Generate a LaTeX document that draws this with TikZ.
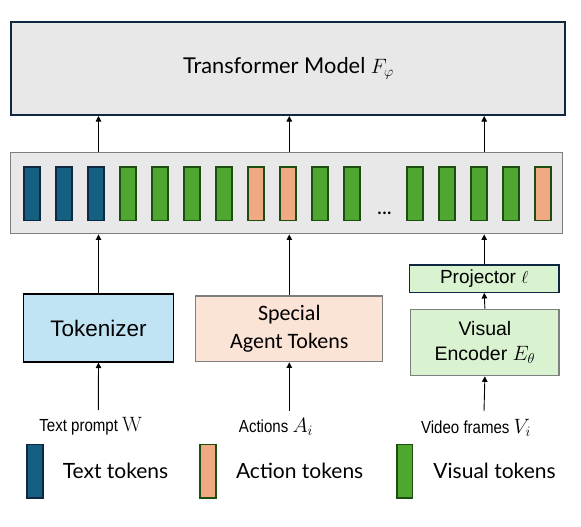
\documentclass[tikz,border=0pt]{standalone}
\usepackage{amsmath}
\usepackage[no-math]{fontspec}
\setmainfont{Lato}
\newfontfamily\arialfont{Liberation Sans}
\newfontfamily\narrowfont[FakeStretch=0.86]{Liberation Sans}
\newfontfamily\calibrifont{Carlito}
\usetikzlibrary{calc, positioning}
\usetikzlibrary{arrows.meta}

\definecolor{navy}{HTML}{0E2841}
\definecolor{panelgray}{HTML}{E8E8E8}
\definecolor{edgegray}{HTML}{7F7F7F}
\definecolor{textblue}{HTML}{156082}
\definecolor{visgreen}{HTML}{4EA72E}
\definecolor{actorange}{HTML}{F1A983}
\definecolor{darkgreen}{HTML}{1E4D12}
\definecolor{tokblue}{HTML}{C1E4F5}
\definecolor{agentpeach}{HTML}{FBE3D6}
\definecolor{encgreen}{HTML}{D9F2D0}

\newcommand{\labmath}[1]{{\fontsize{20}{20}\selectfont$#1$}}

\begin{document}
\begin{tikzpicture}[x=1pt, y=-1pt,
  arr/.style={-{Triangle[length=5.5pt,width=5.5pt]}, line width=0.9pt},
  tokbar/.style={draw, line width=1.6pt, minimum width=15.5pt, minimum height=53.5pt, inner sep=0pt},
  txttok/.style={tokbar, fill=textblue, draw=navy},
  vistok/.style={tokbar, fill=visgreen, draw=darkgreen},
  acttok/.style={tokbar, fill=actorange, draw=darkgreen},
  block/.style={draw, line width=1.2pt, inner sep=0pt, align=center},
  inlabel/.style={inner sep=0pt, font=\narrowfont\fontsize{17.5}{21}\selectfont},
  legtext/.style={inner sep=0pt, font=\fontsize{21}{25}\selectfont}]
\def\yT{193.8}
\def\yL{471.2}

\useasboundingbox (0,0) rectangle (581,527);

\node[block, draw=navy, line width=2pt, fill=panelgray, minimum width=554pt, minimum height=93pt,
  font=\fontsize{21.8}{26}\selectfont] (model) at (288.4,68.5) {Transformer Model $F_{\varphi}$};

\node[draw=edgegray, line width=1.3pt, fill=panelgray, minimum width=552pt, minimum height=81pt] (strip) at (286.8,193.3) {};

\node[txttok] (t1) at (32,\yT) {};
\node[txttok] (t2) at (64,\yT) {};
\node[txttok] (t3) at (96,\yT) {};
\node[vistok] (t4) at (128,\yT) {};
\node[vistok] (t5) at (160,\yT) {};
\node[vistok] (t6) at (192,\yT) {};
\node[vistok] (t7) at (224,\yT) {};
\node[acttok] (t8) at (256,\yT) {};
\node[acttok] (t9) at (288,\yT) {};
\node[vistok] (t10) at (320,\yT) {};
\node[vistok] (t11) at (352,\yT) {};
\node[anchor=base, inner sep=0pt, font=\fontsize{21}{25}\selectfont] (dots) at (384.5,214) {...};
\node[vistok] (t12) at (415,\yT) {};
\node[vistok] (t13) at (447,\yT) {};
\node[vistok] (t14) at (479,\yT) {};
\node[vistok] (t15) at (511,\yT) {};
\node[acttok] (t16) at (543,\yT) {};

\node[block, draw=black, fill=tokblue, minimum width=150pt, minimum height=68pt,
  font=\arialfont\fontsize{22.5}{27}\selectfont] (tok) at (98.5,328) {Tokenizer};
\node[block, draw=edgegray, fill=agentpeach, minimum width=187pt, minimum height=65.7pt,
  font=\calibrifont\fontsize{22}{28.3}\selectfont] (agent) at (289.3,328.9) {Special\\Agent Tokens};
\node[block, draw=navy, fill=encgreen, minimum width=149.7pt, minimum height=27.3pt,
  font=\arialfont\fontsize{19}{23}\selectfont] (proj) at (484.2,278.7) {Projector $\ell$};
\node[block, draw=edgegray, fill=encgreen, minimum width=148.3pt, minimum height=66.4pt,
  font=\arialfont\fontsize{19.5}{25}\selectfont] (enc) at (484.9,342.5) {Visual\\Encoder $E_{\theta}$};

\node[inlabel] (prompt) at (90.8,426.7) {Text prompt \labmath{\mathrm{W}}};
\node[inlabel] (actions) at (276,427) {Actions \labmath{A_i}};
\node[inlabel] (frames) at (476,428) {Video frames \labmath{V_i}};

\coordinate (in1) at (98.3,410);
\coordinate (in2) at (289.3,410.5);
\coordinate (in3) at (484,411);

\draw[arr] (in1) -- (tok.south);
\draw[arr] (in2) -- (agent.south);
\draw[arr] (in3) -- (enc.south);
\draw[arr] (enc.north) -- (proj.south);

\draw[arr] (tok.north) -- (tok.north |- strip.south);
\draw[arr] (agent.north) -- (agent.north |- strip.south);
\draw[arr] (proj.north) -- (proj.north |- strip.south);

\draw[arr] (strip.north -| tok.north) -- (model.south -| tok.north);
\draw[arr] (strip.north -| agent.north) -- (model.south -| agent.north);
\draw[arr] (strip.north -| proj.north) -- (model.south -| proj.north);

\node[txttok] (keytext) at (35,\yL) {};
\node[acttok] (keyact) at (208,\yL) {};
\node[vistok] (keyvis) at (404.7,\yL) {};
\node[legtext, right=19pt of keytext] (keytextlab) {Text tokens};
\node[legtext, right=19.3pt of keyact] (keyactlab) {Action tokens};
\node[legtext, right=20pt of keyvis] (keyvislab) {Visual tokens};
\end{tikzpicture}
\end{document}
